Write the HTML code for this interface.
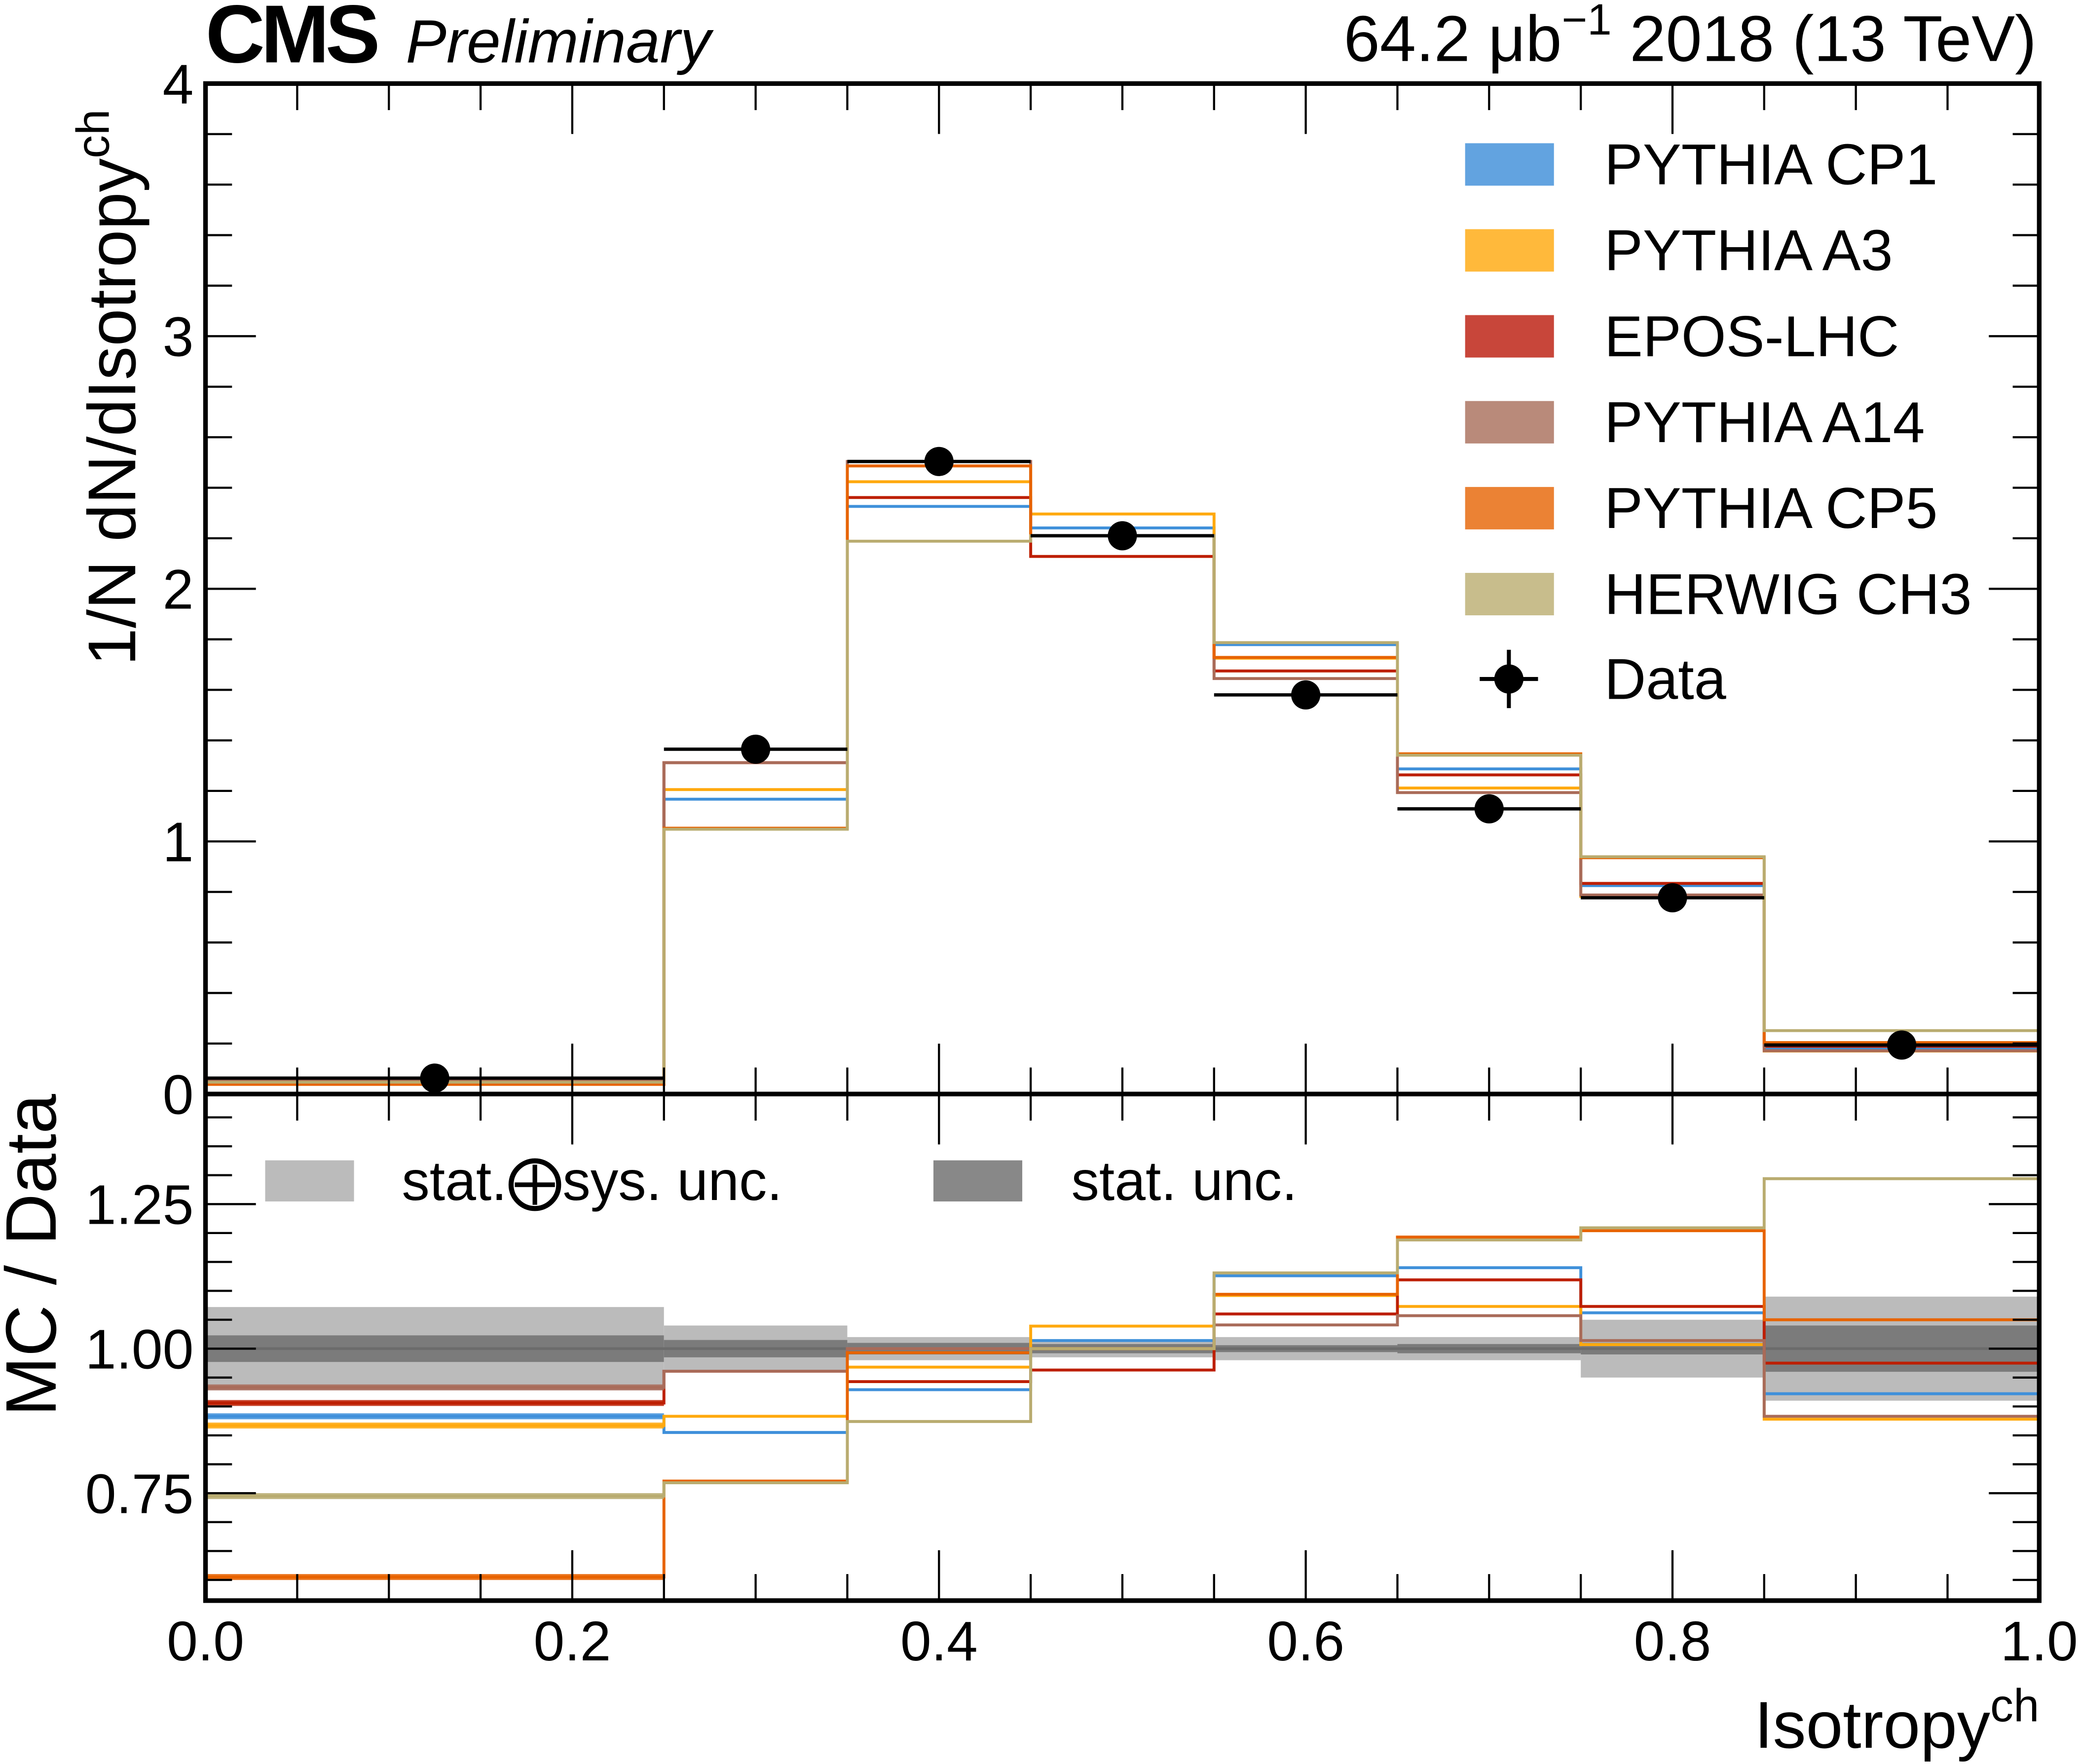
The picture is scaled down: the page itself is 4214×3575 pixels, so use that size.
<!DOCTYPE html>
<html><head><meta charset="utf-8"><style>
html,body{margin:0;padding:0;background:#fff}
svg{display:block;font-family:"Liberation Sans",sans-serif}
</style></head><body>
<svg id="c" width="4214" height="3575" viewBox="0 0 1568 1330.2" xmlns="http://www.w3.org/2000/svg">
<g id="bands"></g>
<g id="hists"></g>
<g id="ratios"></g>
<g id="data"></g>
<g id="axes"></g>
<text x="155" y="47" font-size="62" font-weight="bold" letter-spacing="-3">CMS</text>
<text x="306" y="47" font-size="46" font-style="italic">Preliminary</text>
<text x="1536" y="46" font-size="49" text-anchor="end">64.2 μb<tspan dy="-20" font-size="33">−1</tspan><tspan dy="20"> 2018 (13 TeV)</tspan></text>
<text transform="translate(102,502) rotate(-90)" font-size="51">1/N dN/dIsotropy<tspan dy="-20" font-size="35">ch</tspan></text>
<text transform="translate(42,1068) rotate(-90)" font-size="54">MC / Data</text>
<text x="1538" y="1318" font-size="50" text-anchor="end">Isotropy<tspan dy="-20" font-size="35">ch</tspan></text>
<g id="legend"></g>
</svg>
<script>
const edges=[0,0.25,0.35,0.45,0.55,0.65,0.75,0.85,1.0];
const dataVals=[0.063,1.365,2.504,2.21,1.58,1.129,0.777,0.194];
const seriesNames=["PYTHIA CP1","PYTHIA A3","EPOS-LHC","PYTHIA A14","PYTHIA CP5","HERWIG CH3"];
const ratioCP1=[0.883,0.855,0.929,1.014,1.126,1.14,1.062,0.922];
const ratioA3=[0.867,0.883,0.968,1.039,1.092,1.073,1.007,0.878];
const ratioEPOS=[0.906,0.961,0.943,0.963,1.06,1.119,1.073,0.975];
const ratioA14=[0.933,0.961,1.0,1.0,1.041,1.057,1.014,0.883];
const ratioCP5=[0.605,0.771,0.993,1.0,1.094,1.193,1.204,1.05];
const ratioCH3=[0.745,0.768,0.874,1.0,1.131,1.188,1.209,1.294];
const totUnc=[0.072,0.04,0.02,0.015,0.02,0.02,0.05,0.09];
const statUnc=[0.023,0.015,0.01,0.008,0.006,0.008,0.01,0.04];
const xTicks=["0.0","0.2","0.4","0.6","0.8","1.0"];
const yTicks=["0","1","2","3","4"];
const rTicks=["0.75","1.00","1.25"];

const ratios=[ratioCP1,ratioA3,ratioEPOS,ratioA14,ratioCP5,ratioCH3];
const lineCol=["#3f90da","#ffa90e","#bd1f01","#a96b59","#e76300","#b9ac70"];
const boxCol=["#62a3e0","#ffb93b","#c8463a","#b98a7a","#eb8234","#c8bd8c"];
const X0=155,X1=1538,YT=63,YM=825,YB=1207;
const sx=v=>X0+v*(X1-X0);
const sy=v=>YM-v*(YM-YT)/4;
const sr=v=>1017-(v-1)*436;
const NS="http://www.w3.org/2000/svg";
function mk(p,t,a){const e=document.createElementNS(NS,t);for(const k in a)e.setAttribute(k,a[k]);p.appendChild(e);return e;}
const G=id=>document.getElementById(id);

edges.slice(0,-1).forEach((e,i)=>{
  const x0=sx(e),x1=sx(edges[i+1]);
  const r1=mk(G('bands'),'rect',{x:x0,y:sr(1+totUnc[i]),width:x1-x0,height:sr(1-totUnc[i])-sr(1+totUnc[i]),fill:'#bbbbbb'});
  
  
  const r2=mk(G('bands'),'rect',{x:x0,y:sr(1+statUnc[i]),width:x1-x0,height:sr(1-statUnc[i])-sr(1+statUnc[i]),fill:'#7b7b7b'});
  
  
});
mk(G('bands'),'line',{x1:X0,x2:X1,y1:sr(1),y2:sr(1),stroke:'#6b6b6b','stroke-width':2});

function stepPath(vals,fy){
  let d='';
  vals.forEach((v,i)=>{const y=fy(v);d+=(i?'L':'M')+sx(edges[i])+','+y+'L'+sx(edges[i+1])+','+y;});
  return d;
}
ratios.forEach((r,s)=>{
  const mc=r.map((v,i)=>v*dataVals[i]);
  const p=mk(G('hists'),'path',{d:stepPath(mc,sy),fill:'none',stroke:lineCol[s],'stroke-width':2.2});
  
  
  const q=mk(G('ratios'),'path',{d:stepPath(r,sr),fill:'none',stroke:lineCol[s],'stroke-width':2.2});
  
  
  const f=mk(G('ratios'),'line',{x1:sx(edges[0]),x2:sx(edges[1]),y1:sr(r[0]),y2:sr(r[0]),stroke:lineCol[s],'stroke-width':4.5,'stroke-opacity':0.85});
  
  
});
dataVals.forEach((v,i)=>{
  const xc=sx((edges[i]+edges[i+1])/2),y=sy(v);
  mk(G('data'),'line',{x1:sx(edges[i]),x2:sx(edges[i+1]),y1:y,y2:y,stroke:'#000','stroke-width':2.5});
  const c=mk(G('data'),'circle',{cx:xc,cy:y,r:11,fill:'#000'});
  
  
});

const A=G('axes');
mk(A,'rect',{x:X0,y:YT,width:X1-X0,height:YB-YT,fill:'none',stroke:'#000','stroke-width':3.5});
mk(A,'line',{x1:X0,x2:X1,y1:YM,y2:YM,stroke:'#000','stroke-width':3.5});
const tk=(x1,y1,x2,y2)=>mk(A,'line',{x1,y1,x2,y2,stroke:'#000','stroke-width':1.6});
for(let k=0;k<=20;k++){
  const v=k*0.05,x=sx(v),L=(k%4==0)?38:20;
  tk(x,YT,x,YT+L);tk(x,YM,x,YM-L);tk(x,YM,x,YM+L);tk(x,YB,x,YB-L);
}
for(let k=0;k<=20;k++){const y=sy(k*0.2),L=(k%5==0)?38:20;tk(X0,y,X0+L,y);tk(X1,y,X1-L,y);}
for(let k=-8;k<=8;k++){const v=1+k*0.05,y=sr(v);if(y<YM+2||y>YB-2)continue;const L=(k%5==0)?38:20;tk(X0,y,X0+L,y);tk(X1,y,X1-L,y);}
xTicks.forEach(t=>{const e=mk(A,'text',{x:sx(+t),y:1252,'font-size':42,'text-anchor':'middle'});e.textContent=t;
  });
yTicks.forEach(t=>{const e=mk(A,'text',{x:146,y:sy(+t)+15,'font-size':42,'text-anchor':'end'});e.textContent=t;
  });
rTicks.forEach(t=>{const e=mk(A,'text',{x:146,y:sr(+t)+15,'font-size':42,'text-anchor':'end'});e.textContent=t;
  });

const Lg=G('legend');
seriesNames.forEach((n,s)=>{
  const yc=124+s*64.8;
  const r=mk(Lg,'rect',{x:1105,y:yc-16,width:67,height:32,fill:boxCol[s]});
  
  
  const t=mk(Lg,'text',{x:1210,y:yc+15,'font-size':43.5});t.textContent=n;
  
  
});
mk(Lg,'line',{x1:1116,x2:1160,y1:512,y2:512,stroke:'#000','stroke-width':3});
mk(Lg,'line',{x1:1138,x2:1138,y1:490,y2:534,stroke:'#000','stroke-width':3});
mk(Lg,'circle',{cx:1138,cy:512,r:11,fill:'#000'});
const td=mk(Lg,'text',{x:1210,y:527,'font-size':43.5});td.textContent='Data';


mk(Lg,'rect',{x:200,y:875,width:67,height:31,fill:'#bbbbbb'});
const t1=mk(Lg,'text',{x:303,y:905,'font-size':42});t1.textContent='stat.⨁sys. unc.';


mk(Lg,'rect',{x:704,y:875,width:67,height:31,fill:'#888888'});
const t2=mk(Lg,'text',{x:808,y:905,'font-size':42});t2.textContent='stat. unc.';


</script>
</body></html>
